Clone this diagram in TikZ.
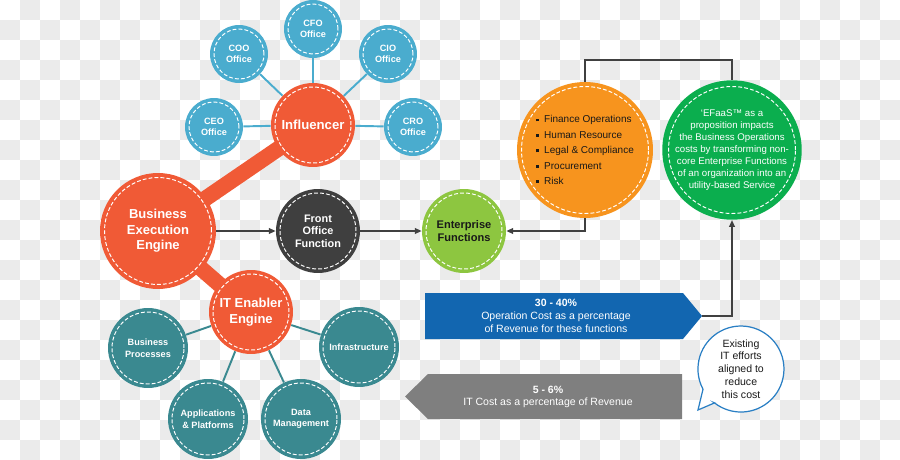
\documentclass[tikz,border=0pt]{standalone}
\usepackage{fontspec}
\setmainfont{Liberation Sans}
\usetikzlibrary{arrows.meta}

\definecolor{checkgray}{HTML}{EBEBEB}
\definecolor{officeblue}{HTML}{4AACCE}
\definecolor{engineorange}{HTML}{F05A36}
\definecolor{frontgray}{HTML}{3F3F3F}
\definecolor{itteal}{HTML}{3A8990}
\definecolor{entgreen}{HTML}{8DC640}
\definecolor{funcorange}{HTML}{F7941E}
\definecolor{efaasgreen}{HTML}{0BAE4E}
\definecolor{opblue}{HTML}{1266B0}
\definecolor{itgray}{HTML}{7F7F7F}
\definecolor{bubbleblue}{HTML}{2A7FC4}
\definecolor{linkgray}{HTML}{404040}

\pgfdeclarelayer{checker}
\pgfdeclarelayer{edges}
\pgfsetlayers{checker,edges,main}

\newcommand{\sqbullet}{\rule[0.25ex]{1.6pt}{1.6pt}\hspace{3pt}}

\tikzset{
  ring/.style={path picture={\draw[white, line width=0.55pt, dash pattern=on 2.2pt off 1.2pt] (path picture bounding box.center) circle[radius=#1];}},
  ball/.style={circle, inner sep=0pt, align=center, text=white},
  office/.style={ball, fill=officeblue, minimum size=1.16cm, ring=0.5cm, font=\fontsize{5.2}{6.3}\selectfont\bfseries},
  influ/.style={ball, fill=engineorange, minimum size=1.68cm, ring=0.76cm, font=\fontsize{7.5}{9}\selectfont\bfseries},
  engine/.style={ball, fill=engineorange, minimum size=2.32cm, ring=1.07cm, font=\fontsize{7.4}{8.9}\selectfont\bfseries},
  front/.style={ball, fill=frontgray, minimum size=1.68cm, ring=0.76cm, font=\fontsize{6.2}{7.2}\selectfont\bfseries},
  itnode/.style={ball, fill=engineorange, minimum size=1.68cm, ring=0.76cm, font=\fontsize{7.4}{8.9}\selectfont\bfseries},
  tealball/.style={ball, fill=itteal, minimum size=1.6cm, ring=0.72cm, font=\fontsize{5.2}{6.6}\selectfont\bfseries},
  entf/.style={ball, fill=entgreen, minimum size=1.68cm, ring=0.76cm, text=black!90, font=\fontsize{6.3}{7}\selectfont\bfseries},
  funcs/.style={ball, fill=funcorange, minimum size=2.72cm, ring=1.27cm, text=black!90, align=left, font=\fontsize{5.7}{8.8}\selectfont},
  efaas/.style={ball, fill=efaasgreen, minimum size=2.72cm, ring=1.27cm, font=\fontsize{5.5}{6.8}\selectfont},
  arrowtext/.style={align=center, text=white, inner sep=0pt, font=\fontsize{6}{7.2}\selectfont},
  bubbletext/.style={align=center, text=black!90, inner sep=0pt, font=\fontsize{6}{7.3}\selectfont},
  band/.style={engineorange, line width=9pt},
  spoke/.style={officeblue, line width=1.1pt},
  tealspoke/.style={itteal, line width=1.1pt},
  plain/.style={linkgray, line width=0.75pt},
  link/.style={plain, -{Triangle[length=3.8pt, width=3.2pt]}}
}

\begin{document}
\begin{tikzpicture}[x=0.02cm, y=-0.02cm]
\useasboundingbox (0,0) rectangle (900,460);

% checkerboard backdrop
\begin{pgfonlayer}{checker}
\foreach \j in {0,...,22}
  \foreach \i in {0,2,...,44}{
    \pgfmathtruncatemacro\xx{20*\i+20*mod(\j+1,2)}
    \fill[checkgray] (\xx,20*\j) rectangle ++(20,20);
  }
\end{pgfonlayer}

% influencer cluster
\node[influ] (infl) at (313,125) {Influencer};
\node[office] (cfo) at (313,29) {CFO\\Office};
\node[office] (coo) at (239,54) {COO\\Office};
\node[office] (cio) at (388,54) {CIO\\Office};
\node[office] (ceo) at (214,127) {CEO\\Office};
\node[office] (cro) at (413,127) {CRO\\Office};

% engines
\node[engine] (bee) at (158,231) {Business\\Execution\\Engine};
\node[front] (fof) at (318,231) {Front\\Office\\Function};
\node[itnode] (ite) at (251,312) {IT Enabler\\Engine};
\node[tealball] (bp) at (148,348) {Business\\Processes};
\node[tealball] (infra) at (359,347) {Infrastructure};
\node[tealball] (app) at (208,419) {Applications\\\& Platforms};
\node[tealball] (dm) at (301,419) {Data\\Management};

% enterprise side
\node[entf] (ef) at (464,231) {Enterprise\\Functions};
\node[funcs] (fin) at (585,150) {\sqbullet Finance Operations\\\sqbullet Human Resource\\\sqbullet Legal \& Compliance\\\sqbullet Procurement\\\sqbullet Risk};
\node[efaas] (efaas) at (732,150) {`EFaaS™ as a\\proposition impacts\\the Business Operations\\costs by transforming non-\\core Enterprise Functions\\of an organization into an\\utility-based Service};

% cost arrows
\fill[opblue] (425,293) -- (683,293) -- (702,316) -- (683,339) -- (425,339) -- cycle;
\coordinate (optip) at (702,316);
\node[arrowtext] (optext) at (556,316) {\textbf{30 - 40\%}\\Operation Cost as a percentage\\of Revenue for these functions};
\fill[itgray] (682,374) -- (428,374) -- (405,396.5) -- (428,419) -- (682,419) -- cycle;
\node[arrowtext] (ittext) at (548,397) {\textbf{5 - 6\%}\\IT Cost as a percentage of Revenue};

% speech bubble
\filldraw[fill=white, draw=bubbleblue, line width=0.7pt] (714.5,402.9) -- (698,410) -- (703,389.2) arc[start angle=-208, end angle=128, radius=43] -- cycle;
\node[bubbletext] (note) at (741,369) {Existing\\IT efforts\\aligned to\\reduce\\this cost};

% connectors
\begin{pgfonlayer}{edges}
\draw[band] (bee.center) -- (infl.center);
\draw[band] (bee.center) -- (ite.center);
\foreach \o in {cfo,coo,cio,ceo,cro}
  \draw[spoke] (infl) -- (\o);
\foreach \t in {bp,infra,app,dm}
  \draw[tealspoke] (ite) -- (\t);
\end{pgfonlayer}
\coordinate (topmid) at (658,60);
\draw[link] (bee) -- (fof);
\draw[link] (fof) -- (ef);
\draw[link] (fin.south) |- (ef.east);
\draw[plain] (fin.north) |- (topmid) -| (efaas.north);
\draw[link] (optip) -| (efaas.south);
\end{tikzpicture}
\end{document}
